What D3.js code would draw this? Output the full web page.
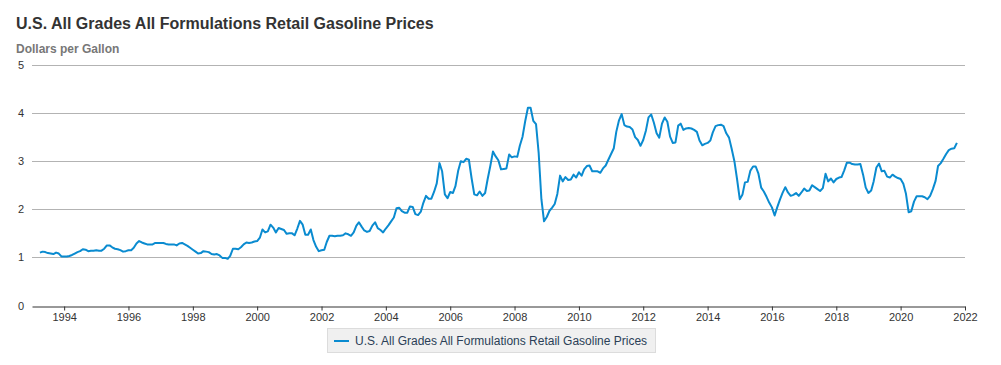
<!DOCTYPE html>
<html>
<head>
<meta charset="utf-8">
<script src="https://cdn.jsdelivr.net/npm/d3@7"></script>
<style>
  html, body { margin: 0; padding: 0; background: #fff; }
  svg { display: block; font-family: "Liberation Sans", Arial, Helvetica, sans-serif; }
</style>
</head>
<body>
<svg id="chart" width="1001" height="365"></svg>
<script>
const title = "U.S. All Grades All Formulations Retail Gasoline Prices";
const unitLabel = "Dollars per Gallon";
const seriesName = "U.S. All Grades All Formulations Retail Gasoline Prices";
const startYear = 1993, startMonth = 4; // first observation: April 1993
const yTicks = [0, 1, 2, 3, 4, 5];
const xTickYears = [1994, 1996, 1998, 2000, 2002, 2004, 2006, 2008, 2010, 2012, 2014, 2016, 2018, 2020, 2022];

// monthly prices, dollars per gallon
const prices1993 = [1.10, 1.12, 1.11, 1.09, 1.08, 1.07, 1.10, 1.08, 1.02];
const prices1994 = [1.02, 1.02, 1.03, 1.05, 1.08, 1.11, 1.13, 1.17, 1.16, 1.13, 1.14, 1.14];
const prices1995 = [1.15, 1.14, 1.14, 1.18, 1.25, 1.25, 1.21, 1.18, 1.17, 1.15, 1.12, 1.13];
const prices1996 = [1.15, 1.15, 1.20, 1.29, 1.34, 1.31, 1.29, 1.27, 1.27, 1.27, 1.30, 1.30];
const prices1997 = [1.30, 1.30, 1.28, 1.27, 1.27, 1.27, 1.25, 1.29, 1.30, 1.27, 1.24, 1.20];
const prices1998 = [1.16, 1.12, 1.08, 1.09, 1.13, 1.12, 1.11, 1.07, 1.06, 1.07, 1.04, 0.99];
const prices1999 = [0.99, 0.97, 1.03, 1.18, 1.18, 1.17, 1.21, 1.27, 1.31, 1.30, 1.31, 1.33];
const prices2000 = [1.34, 1.41, 1.58, 1.52, 1.54, 1.68, 1.62, 1.52, 1.61, 1.59, 1.57, 1.49];
const prices2001 = [1.50, 1.50, 1.46, 1.60, 1.76, 1.68, 1.47, 1.47, 1.58, 1.36, 1.22, 1.13];
const prices2002 = [1.15, 1.16, 1.32, 1.45, 1.45, 1.44, 1.45, 1.45, 1.46, 1.50, 1.48, 1.45];
const prices2003 = [1.52, 1.66, 1.73, 1.64, 1.56, 1.53, 1.55, 1.66, 1.73, 1.61, 1.57, 1.52];
const prices2004 = [1.60, 1.67, 1.75, 1.83, 2.02, 2.03, 1.96, 1.93, 1.93, 2.06, 2.05, 1.90];
const prices2005 = [1.88, 1.95, 2.13, 2.28, 2.22, 2.22, 2.36, 2.54, 2.96, 2.79, 2.31, 2.23];
const prices2006 = [2.36, 2.34, 2.48, 2.80, 3.00, 2.98, 3.05, 3.03, 2.64, 2.31, 2.29, 2.37];
const prices2007 = [2.28, 2.34, 2.62, 2.90, 3.20, 3.10, 3.02, 2.83, 2.84, 2.85, 3.14, 3.08];
const prices2008 = [3.10, 3.09, 3.32, 3.51, 3.83, 4.11, 4.11, 3.84, 3.77, 3.17, 2.21, 1.75];
const prices2009 = [1.84, 1.97, 2.03, 2.11, 2.32, 2.70, 2.58, 2.67, 2.61, 2.62, 2.72, 2.66];
const prices2010 = [2.77, 2.70, 2.83, 2.90, 2.91, 2.79, 2.79, 2.79, 2.76, 2.85, 2.91, 3.03];
const prices2011 = [3.15, 3.27, 3.61, 3.85, 3.98, 3.75, 3.72, 3.71, 3.66, 3.50, 3.44, 3.32];
const prices2012 = [3.44, 3.64, 3.91, 3.97, 3.80, 3.58, 3.49, 3.78, 3.91, 3.82, 3.51, 3.38];
const prices2013 = [3.39, 3.74, 3.78, 3.65, 3.68, 3.69, 3.68, 3.65, 3.61, 3.43, 3.33, 3.36];
const prices2014 = [3.38, 3.43, 3.60, 3.73, 3.75, 3.76, 3.73, 3.58, 3.49, 3.26, 3.00, 2.63];
const prices2015 = [2.21, 2.31, 2.56, 2.57, 2.80, 2.89, 2.89, 2.74, 2.45, 2.37, 2.26, 2.14];
const prices2016 = [2.04, 1.87, 2.04, 2.20, 2.34, 2.46, 2.35, 2.28, 2.30, 2.34, 2.28, 2.35];
const prices2017 = [2.43, 2.38, 2.39, 2.50, 2.46, 2.42, 2.38, 2.44, 2.74, 2.58, 2.64, 2.56];
const prices2018 = [2.63, 2.66, 2.67, 2.81, 2.97, 2.97, 2.94, 2.93, 2.93, 2.94, 2.72, 2.45];
const prices2019 = [2.34, 2.39, 2.58, 2.87, 2.95, 2.79, 2.80, 2.68, 2.66, 2.72, 2.68, 2.65];
const prices2020 = [2.63, 2.53, 2.33, 1.94, 1.96, 2.16, 2.27, 2.27, 2.27, 2.25, 2.21, 2.28];
const prices2021 = [2.42, 2.59, 2.90, 2.96, 3.05, 3.15, 3.23, 3.26, 3.27, 3.38];

const allPrices = [].concat(prices1993, prices1994, prices1995, prices1996, prices1997,
  prices1998, prices1999, prices2000, prices2001, prices2002, prices2003, prices2004,
  prices2005, prices2006, prices2007, prices2008, prices2009, prices2010, prices2011,
  prices2012, prices2013, prices2014, prices2015, prices2016, prices2017, prices2018,
  prices2019, prices2020, prices2021);

const data = allPrices.map((v, i) => ({ date: new Date(startYear, startMonth - 1 + i, 1), value: v }));

const svg = d3.select("#chart");
const margin = { left: 32, right: 36, top: 65, bottom: 59 };
const W = 1001, H = 365;

const x = d3.scaleTime()
  .domain([new Date(1993, 0, 1), new Date(2022, 0, 1)])
  .range([margin.left, W - margin.right]);
const y = d3.scaleLinear()
  .domain([0, 5])
  .range([H - margin.bottom - 0.5, margin.top]);

// title
svg.append("text").attr("x", 16).attr("y", 29)
  .attr("font-size", 16).attr("font-weight", "bold").attr("fill", "#333")
  .text(title);
svg.append("text").attr("x", 16).attr("y", 53)
  .attr("font-size", 12).attr("font-weight", "bold").attr("fill", "#777")
  .text(unitLabel);

// grid lines
svg.append("g").selectAll("line").data(yTicks.filter(d => d > 0)).join("line")
  .attr("x1", margin.left).attr("x2", W - margin.right)
  .attr("y1", d => Math.round(y(d)) + 0.5).attr("y2", d => Math.round(y(d)) + 0.5)
  .attr("stroke", "#b3b3b3").attr("stroke-width", 1);

// y labels
svg.append("g").selectAll("text").data(yTicks).join("text")
  .attr("x", 24).attr("y", d => y(d) + 4)
  .attr("text-anchor", "end").attr("font-size", 11).attr("fill", "#333")
  .text(d => d);

// x axis
const xAxis = d3.axisBottom(x)
  .tickValues(xTickYears.map(yr => new Date(yr, 0, 1)))
  .tickFormat(d3.timeFormat("%Y"))
  .tickSize(4).tickPadding(3).tickSizeOuter(0);
const gx = svg.append("g").attr("transform", `translate(0,${Math.round(y(0)) + 0.5})`).call(xAxis);
gx.select(".domain").attr("stroke", "#333");
gx.selectAll(".tick line").attr("stroke", "#333");
gx.selectAll(".tick text").attr("fill", "#333").attr("font-size", 11)
  .attr("font-family", "\"Liberation Sans\", Arial, sans-serif");

// line
const line = d3.line().x(d => x(d.date)).y(d => y(d.value));
svg.append("path").datum(data)
  .attr("d", line).attr("fill", "none")
  .attr("stroke", "#0a8bd0").attr("stroke-width", 2).attr("stroke-linejoin", "round");

// legend
const lg = svg.append("g");
lg.append("rect").attr("x", 327.5).attr("y", 328.5).attr("width", 328).attr("height", 24)
  .attr("fill", "#f0f0f0").attr("stroke", "#dcdcdc");
lg.append("line").attr("x1", 334).attr("x2", 349).attr("y1", 341).attr("y2", 341)
  .attr("stroke", "#0a8bd0").attr("stroke-width", 2);
lg.append("text").attr("x", 355).attr("y", 345)
  .attr("font-size", 12).attr("fill", "#2b3f57").text(seriesName);
</script>
</body>
</html>
